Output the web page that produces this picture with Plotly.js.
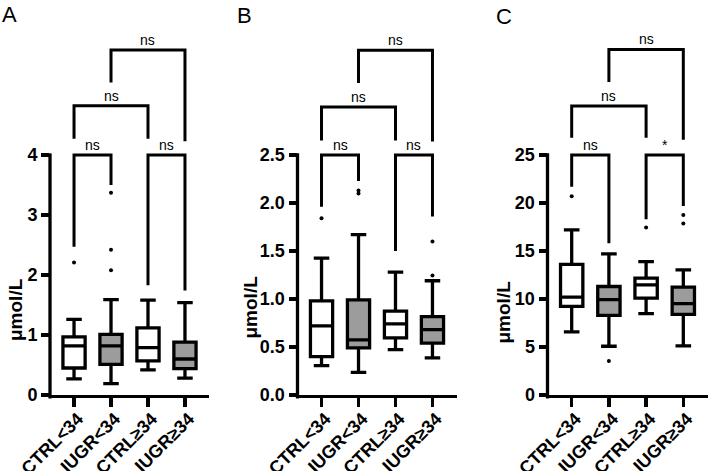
<!DOCTYPE html>
<html><head><meta charset="utf-8">
<script src="https://cdn.plot.ly/plotly-3.0.1.min.js"></script>
<style>html,body{margin:0;padding:0;background:#fff}#chart{width:709px;height:471px}</style>
</head><body><div id="chart"></div>
<script>
// ---------- data ----------
const categories = ['CTRL<34', 'IUGR<34', 'CTRL≥34', 'IUGR≥34'];
const catPos = [0, 1, 2, 3];
const ctrlPos = [0, 2];
const iugrPos = [1, 3];
const panelLetters = ['A', 'B', 'C'];
const yTitle = 'μmol/L';

// Panel A (order: CTRL<34, IUGR<34, CTRL≥34, IUGR≥34)
const A_q1     = [0.45, 0.51, 0.57, 0.44];
const A_median = [0.82, 0.82, 0.79, 0.60];
const A_q3     = [0.97, 1.01, 1.12, 0.88];
const A_lower  = [0.27, 0.19, 0.42, 0.28];
const A_upper  = [1.26, 1.59, 1.58, 1.54];
const A_outX   = [0, 1, 1, 1];
const A_outY   = [2.21, 3.37, 2.42, 2.08];
const A_ticks  = [0, 1, 2, 3, 4];
const A_brPairs = [[0, 1], [2, 3], [0, 2], [1, 3]];
const A_brLevel = [4, 4, 4.82, 5.75];
const A_brLeftEnd  = [2.47, 1.83, 4.27, 5.21];
const A_brRightEnd = [3.50, 1.74, 4.27, 4.23];
const A_brText = ['ns', 'ns', 'ns', 'ns'];

// Panel B
const B_q1     = [0.40, 0.49, 0.595, 0.54];
const B_median = [0.72, 0.575, 0.74, 0.68];
const B_q3     = [0.98, 0.99, 0.873, 0.817];
const B_lower  = [0.306, 0.236, 0.473, 0.386];
const B_upper  = [1.426, 1.67, 1.28, 1.19];
const B_outX   = [0, 1, 1, 3, 3];
const B_outY   = [1.84, 2.10, 2.13, 1.60, 1.245];
const B_ticks  = [0, 0.5, 1.0, 1.5, 2.0, 2.5];
const B_brPairs = [[0, 1], [2, 3], [0, 2], [1, 3]];
const B_brLevel = [2.5, 2.5, 3.0, 3.59];
const B_brLeftEnd  = [1.96, 1.50, 2.65, 3.25];
const B_brRightEnd = [2.23, 1.86, 2.65, 2.64];
const B_brText = ['ns', 'ns', 'ns', 'ns'];

// Panel C
const C_q1     = [9.23, 8.30, 10.1, 8.40];
const C_median = [10.2, 9.93, 11.48, 9.51];
const C_q3     = [13.6, 11.3, 12.17, 11.24];
const C_lower  = [6.57, 5.08, 8.47, 5.11];
const C_upper  = [17.2, 14.7, 13.9, 13.04];
const C_outX   = [0, 1, 2, 3, 3];
const C_outY   = [20.7, 3.53, 17.46, 18.74, 17.87];
const C_ticks  = [0, 5, 10, 15, 20, 25];
const C_brPairs = [[0, 1], [2, 3], [0, 2], [1, 3]];
const C_brLevel = [25, 25, 30.1, 36.0];
const C_brLeftEnd  = [21.7, 18.3, 26.8, 32.6];
const C_brRightEnd = [15.8, 19.7, 26.8, 26.6];
const C_brText = ['ns', '*', 'ns', 'ns'];

// ---------- layout helpers (pixels) ----------
const W = 709, H = 471;
const LW = 3.3;
const plotBottomPx = 395, plotTopPx = 30, maxTickPx = 155;
const yDom = [(H - plotBottomPx) / H, (H - plotTopPx) / H];
const maxFrac = (plotBottomPx - maxTickPx) / (plotBottomPx - plotTopPx);
const xDomPx = [[50, 209], [297.5, 456.5], [547.5, 707.5]];
const yTitlePx = [[15, 275], [249.5, 272], [502.5, 277]];
const yTitleShift = -35;
const letterPx = [[0, 0], [235, 1], [494, 2]];

const panels = [
  {q1: A_q1, med: A_median, q3: A_q3, lo: A_lower, hi: A_upper, ox: A_outX, oy: A_outY, ticks: A_ticks, fmt: 'd',
   pairs: A_brPairs, level: A_brLevel, le: A_brLeftEnd, re: A_brRightEnd, txt: A_brText},
  {q1: B_q1, med: B_median, q3: B_q3, lo: B_lower, hi: B_upper, ox: B_outX, oy: B_outY, ticks: B_ticks, fmt: '.1f',
   pairs: B_brPairs, level: B_brLevel, le: B_brLeftEnd, re: B_brRightEnd, txt: B_brText},
  {q1: C_q1, med: C_median, q3: C_q3, lo: C_lower, hi: C_upper, ox: C_outX, oy: C_outY, ticks: C_ticks, fmt: 'd',
   pairs: C_brPairs, level: C_brLevel, le: C_brLeftEnd, re: C_brRightEnd, txt: C_brText}
];

const pick = (arr, idx) => idx.map(i => arr[i]);
const esc = s => s.replace(/&/g, '&amp;').replace(/</g, '&lt;').replace(/>/g, '&gt;');

const traces = [];
const layout = {
  width: W, height: H,
  margin: {l: 0, r: 0, t: 0, b: 0},
  paper_bgcolor: '#fff', plot_bgcolor: 'rgba(0,0,0,0)',
  showlegend: false,
  font: {family: 'Liberation Sans, Arial, sans-serif', color: '#000'},
  annotations: [], shapes: []
};
const tickFont = {family: 'Liberation Sans, Arial, sans-serif', size: 18, color: '#000', weight: 'bold'};

panels.forEach((p, k) => {
  const sfx = k === 0 ? '' : String(k + 1);
  const xa = 'x' + sfx, ya = 'y' + sfx;
  const maxTick = p.ticks[p.ticks.length - 1];
  const yTop = maxTick / maxFrac;

  [[ctrlPos, '#ffffff'], [iugrPos, '#9c9c9c']].forEach(([pos, fill]) => {
    traces.push({
      type: 'box', xaxis: xa, yaxis: ya, x: pos,
      q1: pick(p.q1, pos), median: pick(p.med, pos), q3: pick(p.q3, pos),
      lowerfence: pick(p.lo, pos), upperfence: pick(p.hi, pos),
      width: 0.6, whiskerwidth: 0.7, boxpoints: false,
      fillcolor: fill, line: {color: '#000', width: LW},
      hoverinfo: 'skip', showlegend: false
    });
  });

  traces.push({
    type: 'scatter', mode: 'markers', xaxis: xa, yaxis: ya,
    x: p.ox, y: p.oy, marker: {color: '#000', size: 4},
    hoverinfo: 'skip', showlegend: false, cliponaxis: false
  });

  p.pairs.forEach(([i, j], b) => {
    traces.push({
      type: 'scatter', mode: 'lines', xaxis: xa, yaxis: ya,
      x: [catPos[i], catPos[i], catPos[j], catPos[j]],
      y: [p.le[b], p.level[b], p.level[b], p.re[b]],
      line: {color: '#000', width: 3}, cliponaxis: false,
      hoverinfo: 'skip', showlegend: false
    });
    layout.annotations.push({
      xref: xa, yref: ya, x: (catPos[i] + catPos[j]) / 2, y: p.level[b],
      text: p.txt[b], showarrow: false, yanchor: 'middle', yshift: 10,
      font: {family: 'Liberation Sans, Arial, sans-serif', size: 14, color: '#000'}
    });
  });

  layout['xaxis' + sfx] = {
    domain: [xDomPx[k][0] / W, xDomPx[k][1] / W], anchor: ya,
    range: [-0.65, 3.65], tickvals: catPos, ticktext: categories.map(esc),
    tickangle: -45, ticks: 'outside', ticklen: 9, tickwidth: LW, tickcolor: '#000',
    ticklabelstandoff: -6, ticklabelshift: 4,
    showline: true, linewidth: LW, linecolor: '#000',
    showgrid: false, zeroline: false, tickfont: tickFont, fixedrange: true
  };
  layout['yaxis' + sfx] = {
    domain: yDom, anchor: xa, range: [0, yTop],
    tickvals: p.ticks, tickformat: p.fmt,
    ticks: 'outside', ticklen: 8, tickwidth: LW, tickcolor: '#000',
    showline: false, showgrid: false, zeroline: false, tickfont: tickFont, fixedrange: true
  };
  const domH = plotBottomPx - plotTopPx;
  layout.shapes.push({
    type: 'line', xref: xa + ' domain', yref: ya + ' domain',
    x0: 0, x1: 0, y0: -(LW + 0.2) / domH, y1: maxFrac + (LW / 2) / domH,
    line: {color: '#000', width: LW}, layer: 'above'
  });

  layout.annotations.push({
    xref: 'paper', yref: 'paper', x: yTitlePx[k][0] / W, y: (H - yTitlePx[k][1]) / H,
    yshift: yTitleShift,
    text: '<b>' + yTitle + '</b>', textangle: -90, showarrow: false,
    xanchor: 'center', yanchor: 'middle',
    font: {family: 'Liberation Sans, Arial, sans-serif', size: 19, color: '#000'}
  });
  layout.annotations.push({
    xref: 'paper', yref: 'paper', x: letterPx[k][0] / W, y: 1 - letterPx[k][1] / H,
    text: panelLetters[k], showarrow: false, xanchor: 'left', yanchor: 'top',
    font: {family: 'Liberation Sans, Arial, sans-serif', size: 22, color: '#000'}
  });
});

Plotly.newPlot('chart', traces, layout, {staticPlot: true, displayModeBar: false});
</script>
</body></html>
